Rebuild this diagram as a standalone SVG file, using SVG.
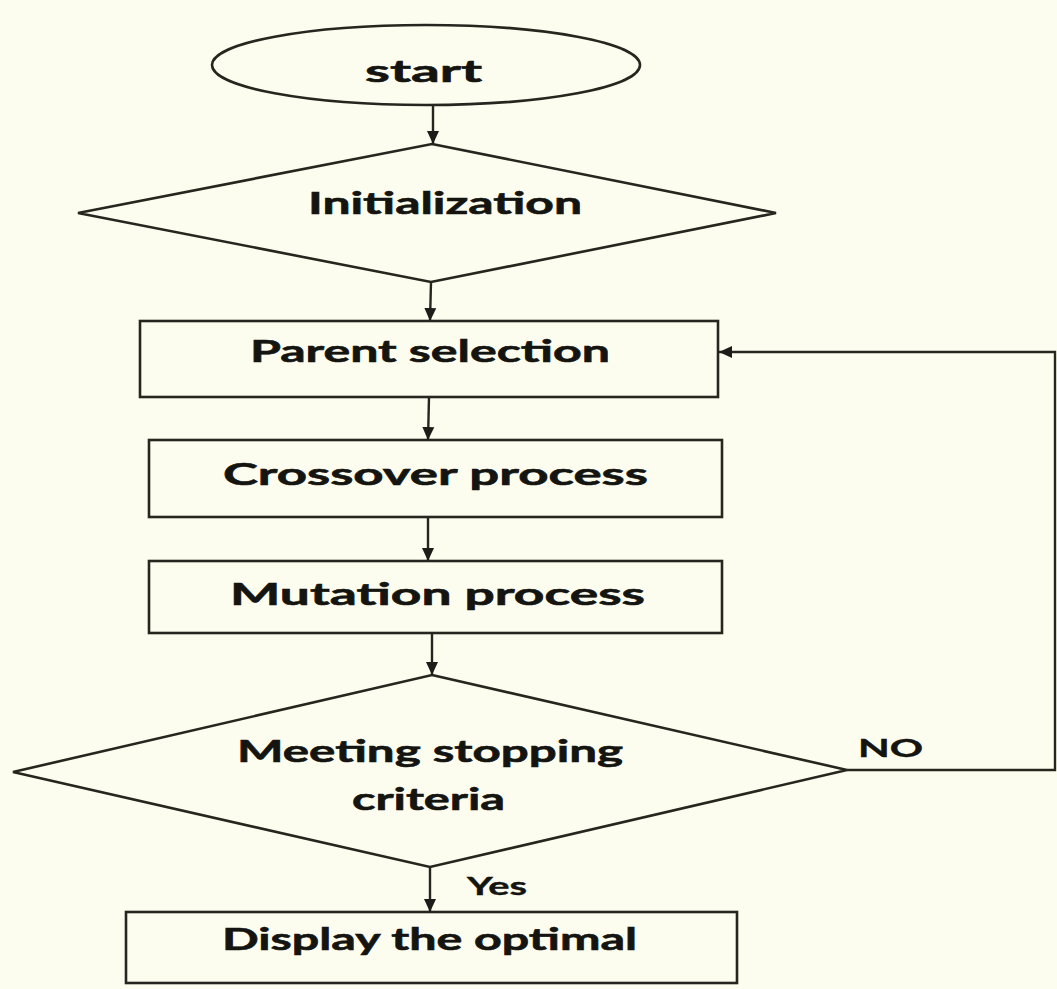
<svg xmlns="http://www.w3.org/2000/svg" width="1057" height="989" viewBox="0 0 1057 989">
  <style>
    .shape { fill: none; stroke: #26261f; stroke-width: 2.6; }
    .edge { fill: none; stroke: #26261f; stroke-width: 2.4; }
    .label { font-family: Lato, "Open Sans", "Liberation Sans", sans-serif; font-weight: 700; font-size: 31px; fill: #141410; stroke: #141410; stroke-width: 0.6; text-anchor: middle; }
    .small { font-size: 24px; stroke-width: 0.4; }
  </style>
  <defs>
    <marker id="arrow" markerUnits="userSpaceOnUse" markerWidth="14" markerHeight="14" viewBox="0 0 14 14" refX="13" refY="7" orient="auto">
      <path d="M0,1 L13,7 L0,13 Z" fill="#1c1c18"/>
    </marker>
  </defs>

  <rect width="1057" height="989" fill="#fdfdef"/>

  <g id="start">
    <ellipse class="shape" cx="426" cy="65" rx="214" ry="40"/>
    <text class="label" x="423.5" y="82" textLength="117" lengthAdjust="spacingAndGlyphs">start</text>
  </g>

  <g id="initialization">
    <polygon class="shape" points="432,144 776,213 431,282 78,213"/>
    <text class="label" x="445" y="214" textLength="274" lengthAdjust="spacingAndGlyphs">Initialization</text>
  </g>

  <g id="parent-selection">
    <rect class="shape" x="140" y="321" width="578" height="76"/>
    <text class="label" x="430" y="362" textLength="360" lengthAdjust="spacingAndGlyphs">Parent selection</text>
  </g>

  <g id="crossover">
    <rect class="shape" x="149" y="440" width="573" height="77"/>
    <text class="label" x="435.5" y="485" textLength="425" lengthAdjust="spacingAndGlyphs">Crossover process</text>
  </g>

  <g id="mutation">
    <rect class="shape" x="149" y="561" width="573" height="72"/>
    <text class="label" x="437.5" y="605" textLength="415" lengthAdjust="spacingAndGlyphs">Mutation process</text>
  </g>

  <g id="stopping-criteria">
    <polygon class="shape" points="432,675 847,770 430,867 13,772"/>
    <text class="label" x="430" y="762" textLength="386" lengthAdjust="spacingAndGlyphs">Meeting stopping</text>
    <text class="label" x="428.5" y="810" textLength="153" lengthAdjust="spacingAndGlyphs">criteria</text>
  </g>

  <g id="display-optimal">
    <rect class="shape" x="126" y="912" width="611" height="71"/>
    <text class="label" x="429.5" y="950" textLength="415" lengthAdjust="spacingAndGlyphs">Display the optimal</text>
  </g>

  <g id="connectors">
    <line class="edge" x1="433" y1="105" x2="433" y2="144" marker-end="url(#arrow)"/>
    <line class="edge" x1="431" y1="282" x2="430" y2="321" marker-end="url(#arrow)"/>
    <line class="edge" x1="429" y1="397" x2="428" y2="440" marker-end="url(#arrow)"/>
    <line class="edge" x1="428" y1="517" x2="428" y2="561" marker-end="url(#arrow)"/>
    <line class="edge" x1="432" y1="633" x2="432" y2="675" marker-end="url(#arrow)"/>
    <line class="edge" x1="430" y1="867" x2="430" y2="912" marker-end="url(#arrow)"/>
    <polyline class="edge" points="847,770 1055,770 1055,352 719,352" marker-end="url(#arrow)"/>
    <text class="label small" x="890.5" y="757" textLength="65" lengthAdjust="spacingAndGlyphs">NO</text>
    <text class="label small" x="497" y="895" textLength="60" lengthAdjust="spacingAndGlyphs">Yes</text>
  </g>
</svg>
